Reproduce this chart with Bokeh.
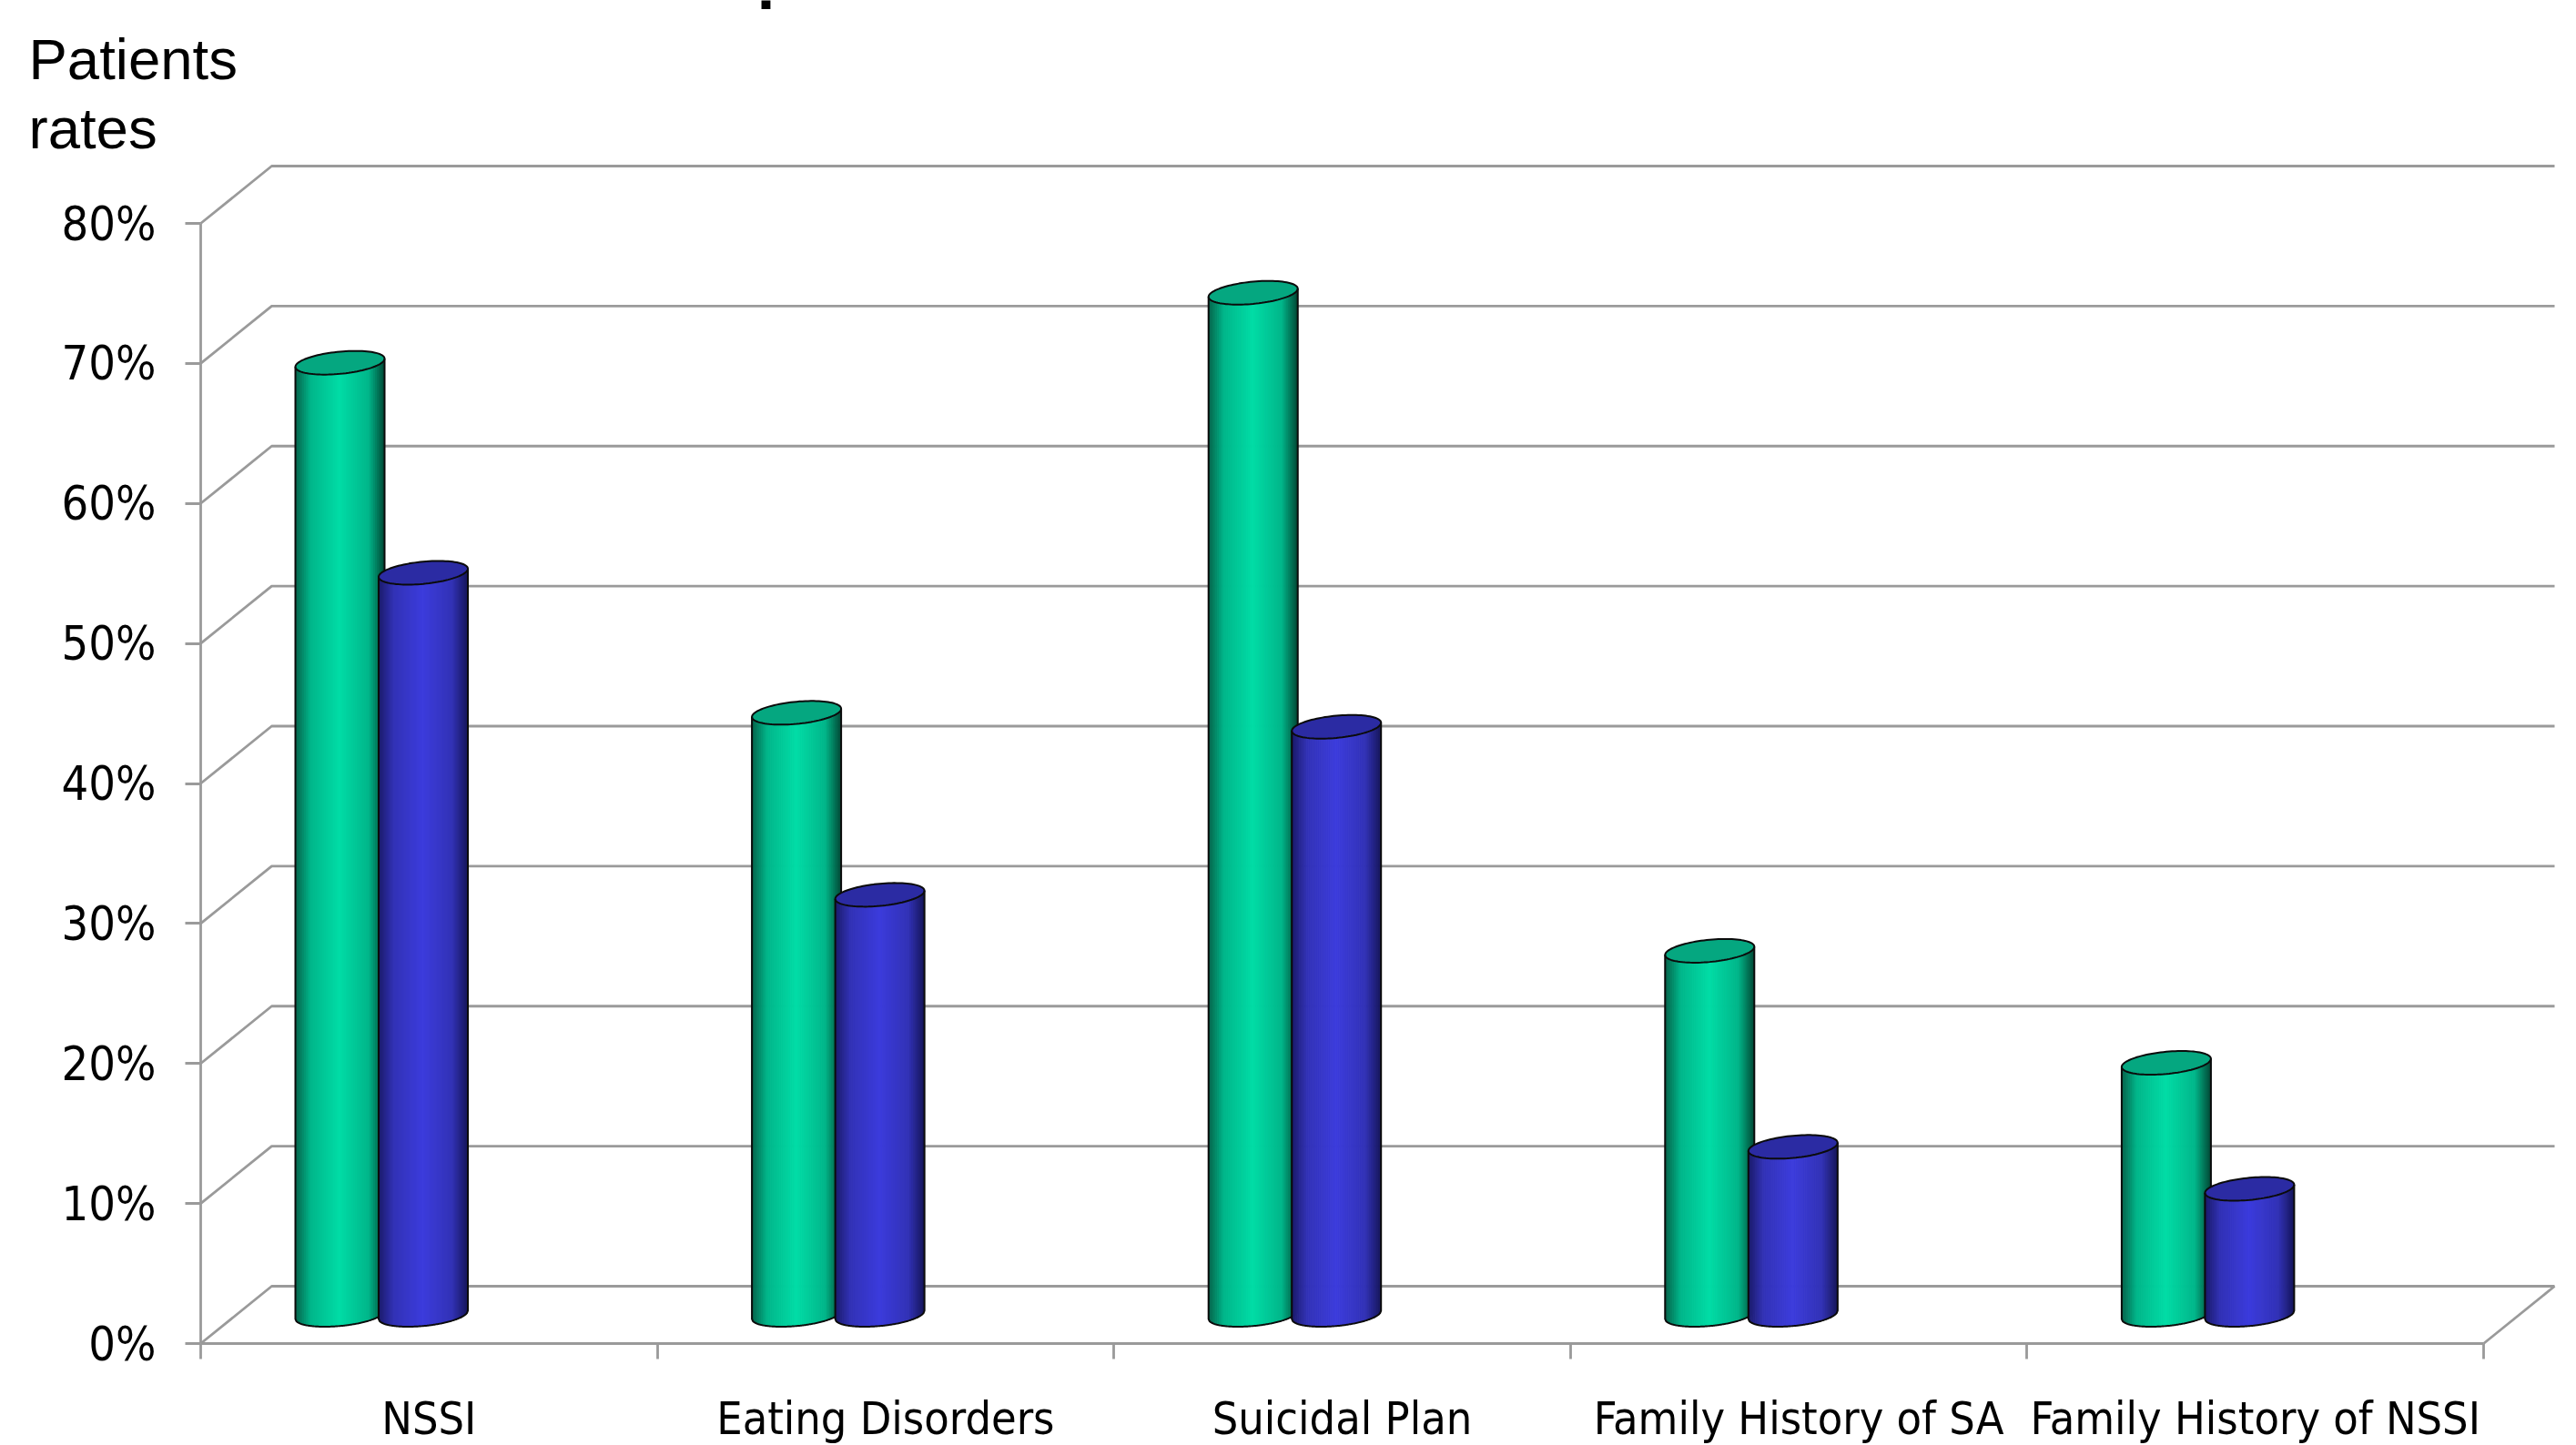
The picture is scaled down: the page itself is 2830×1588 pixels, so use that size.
from bokeh.embed import file_html
from bokeh.models import FixedTicker, Label, LinearAxis, PrintfTickFormatter, Range1d
from bokeh.plotting import figure
from bokeh.resources import INLINE
import math

categories = ["NSSI", "Eating Disorders", "Suicidal Plan", "Family History of SA", "Family History of NSSI"]
series_a = [68, 43, 73, 26, 18]
series_b = [53, 30, 42, 12, 9]
y_ticks = [0, 10, 20, 30, 40, 50, 60, 70, 80]
axis_title = ["Patients", "rates"]

W, H = 2830, 1588
LEFT, BASE = 220, 1476
PX_X = 1 / 501.6          # category units per pixel
PX_Y = 80 / (1476 - 245)  # percent units per pixel
DEPTH_X, DEPTH_Y = 78, 63  # oblique offset of the back wall, pixels
TICK_FONT = "DejaVu Sans Condensed"
GREY = "#9a9a9a"
RULE = 2.8

# The frame fills the page, so the axes sit inside it at a fixed location.
p = figure(width=W, height=H, output_backend="svg", toolbar_location=None,
           x_range=Range1d(-LEFT * PX_X, (W - LEFT) * PX_X),
           y_range=Range1d(-(H - BASE) * PX_Y, BASE * PX_Y),
           min_border=0, x_axis_type=None, y_axis_type=None,
           background_fill_color="white", border_fill_color="white", outline_line_color=None)
p.grid.visible = False

# Walls: each level runs up the side wall, then along the back wall.
n = len(categories)
dx, dy = DEPTH_X * PX_X, DEPTH_Y * PX_Y
p.multi_line([[0, dx, n + dx] for _ in y_ticks], [[v, v + dy, v + dy] for v in y_ticks],
             line_color=GREY, line_width=RULE)
p.line([n, n + dx], [0, dy], line_color=GREY, line_width=RULE)


def blend(c1, c2, t):
    return "#%02x%02x%02x" % tuple(round(a + (b - a) * t) for a, b in zip(c1, c2))


def shade(u, edge_l, edge_r, mid, bright):
    # Horizontal shading across a cylinder, u runs from -1 to 1.
    edge = edge_l if u < 0 else edge_r
    t = 1 - abs(u)
    return blend(edge, mid, t / 0.35) if t < 0.35 else blend(mid, bright, (t - 0.35) / 0.65)


R, SHEAR, MINOR = 49, 0.092, 12.2
BASE_LIFT = DEPTH_Y / 2 * PX_Y


def front_arc(px):
    # Height of the tilted ellipse's front edge relative to its centre, percent units.
    return (SHEAR * px - MINOR * math.sqrt(max(0, 1 - (px / R) ** 2))) * PX_Y


def cylinder(cx, v, palette):
    edge_l, edge_r, mid, bright, cap = palette
    top, bottom = v + BASE_LIFT, BASE_LIFT
    xs, ys, cols = [], [], []
    steps = 49
    for i in range(steps):
        a, b = -R + 2 * R * i / steps, -R + 2 * R * (i + 1) / steps
        xs.append([cx + a * PX_X, cx + b * PX_X, cx + b * PX_X, cx + a * PX_X])
        ys.append([top + front_arc(a), top + front_arc(b), bottom + front_arc(b), bottom + front_arc(a)])
        cols.append(shade((a + b) / 2 / R, edge_l, edge_r, mid, bright))
    p.patches(xs, ys, fill_color=cols, line_color=cols, line_width=1)

    ring = [2 * math.pi * k / 96 for k in range(97)]
    ex = [R * math.cos(t) for t in ring]
    ey = [SHEAR * e + MINOR * math.sin(t) for e, t in zip(ex, ring)]
    p.patch([cx + e * PX_X for e in ex], [top + e * PX_Y for e in ey],
            fill_color=cap, line_color="#0b0b0b", line_width=2)

    # Silhouette: both sides and the front arc of the base.
    lower = [-R + 2 * R * k / 96 for k in range(97)]
    out_x = [cx - R * PX_X] + [cx + e * PX_X for e in lower] + [cx + R * PX_X]
    out_y = [top - SHEAR * R * PX_Y] + [bottom + front_arc(e) for e in lower] + [top + SHEAR * R * PX_Y]
    p.line(out_x, out_y, line_color="#0b0b0b", line_width=2)


GREEN = ((6, 96, 72), (0, 74, 54), (0, 182, 138), (0, 220, 166), "#05a780")
BLUE = ((26, 26, 104), (22, 22, 92), (50, 50, 182), (60, 60, 220), "#2b2ba3")

for i in range(n):
    centre = i + 0.5
    cylinder(centre - 97.8 * PX_X, series_a[i], GREEN)
    cylinder(centre - 6.3 * PX_X, series_b[i], BLUE)

# Value axis
yaxis = LinearAxis(ticker=FixedTicker(ticks=y_ticks), bounds=(0, 80), fixed_location=0,
                   formatter=PrintfTickFormatter(format="%d%%"))
yaxis.axis_line_color = GREY
yaxis.axis_line_width = RULE
yaxis.major_tick_line_color = GREY
yaxis.major_tick_line_width = RULE
yaxis.major_tick_in = 0
yaxis.major_tick_out = 17
yaxis.minor_tick_line_color = None
yaxis.major_label_text_font = TICK_FONT
yaxis.major_label_text_font_size = "52px"
yaxis.major_label_text_color = "black"
yaxis.major_label_standoff = 32
p.add_layout(yaxis, "left")

# Category axis: names at the centres, minor ticks on the boundaries
centres = [i + 0.5 for i in range(n)]
xaxis = LinearAxis(ticker=FixedTicker(ticks=centres, minor_ticks=list(range(n + 1))), bounds=(0, n),
                   fixed_location=0, major_label_overrides=dict(zip(centres, categories)))
xaxis.axis_line_color = GREY
xaxis.axis_line_width = RULE
xaxis.major_tick_line_color = None
xaxis.major_tick_in = 0
xaxis.major_tick_out = 0
xaxis.minor_tick_line_color = GREY
xaxis.minor_tick_line_width = RULE
xaxis.minor_tick_in = 0
xaxis.minor_tick_out = 17
xaxis.major_label_text_font = TICK_FONT
xaxis.major_label_text_font_size = "50px"
xaxis.major_label_text_color = "black"
xaxis.major_label_standoff = 36
p.add_layout(xaxis, "below")

# Axis caption, two lines
for text, offset in zip(axis_title, [64, 140]):
    p.add_layout(Label(x=31, y=H - offset, x_units="screen", y_units="screen", text=text,
                       text_font="Liberation Sans", text_font_size="63.5px",
                       text_color="black", text_baseline="alphabetic"))

# Heading, running off the top of the page so only a descender remains
p.add_layout(Label(x=831, y=H + 31, x_units="screen", y_units="screen", text="p",
                   text_font="Liberation Sans", text_font_style="bold", text_font_size="72px",
                   text_color="black", text_baseline="alphabetic"))

open("out.html", "w").write(file_html(p, INLINE))
